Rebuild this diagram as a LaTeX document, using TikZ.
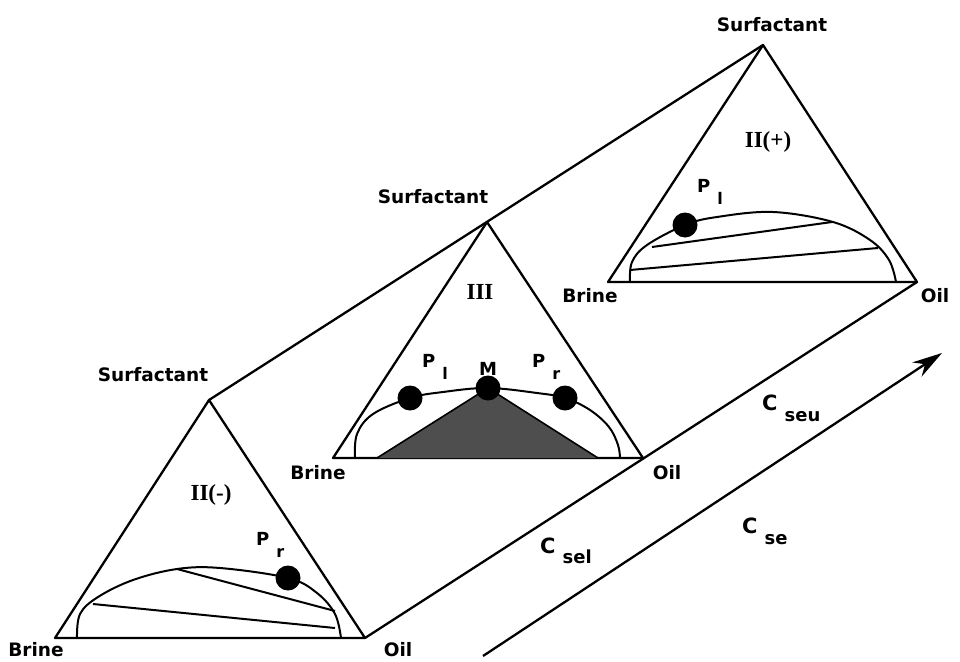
\documentclass[tikz,border=0pt]{standalone}
\usepackage{fontspec}
\setmainfont{DejaVu Sans}
\newfontfamily\romfont{Liberation Serif}
\usetikzlibrary{arrows.meta}

\definecolor{threeph}{RGB}{78,78,78}

% letter with a lowered, spaced index: base, index, drop, index size
\newcommand{\lowsub}[4]{#1\hspace{7pt}\raisebox{-#3}{\fontsize{#4}{#4}\selectfont #2}}

\begin{document}
\begin{tikzpicture}[x=1pt, y=-1pt,
  edge/.style={line width=2.3pt, line join=round},
  binodal/.style={line width=2pt, smooth, tension=0.6},
  tieline/.style={line width=2pt},
  corner/.style={font=\fontsize{18.5}{18.5}\selectfont\bfseries},
  phase/.style={font=\romfont\fontsize{23}{23}\selectfont\bfseries},
  ptlbl/.style={font=\fontsize{18}{18}\selectfont\bfseries, anchor=base west, inner sep=0pt},
  clbl/.style={font=\fontsize{21}{21}\selectfont\bfseries, anchor=base west, inner sep=0pt},
  dot/.style={circle, fill=black, minimum size=25pt, inner sep=0pt}]

  \useasboundingbox (0,0) rectangle (960,661);

  % vertices of the three ternary diagrams
  \coordinate (apexA) at (209,400);
  \coordinate (brineA) at (55,638);
  \coordinate (oilA) at (365,638);
  \coordinate (apexB) at (487,222);
  \coordinate (brineB) at (333,458);
  \coordinate (oilB) at (643,458);
  \coordinate (apexC) at (763,45);
  \coordinate (brineC) at (608,282);
  \coordinate (oilC) at (917,282);

  % triangles and the prism edges joining them
  \draw[edge] (brineA) -- (apexA) -- (oilA) -- cycle;
  \draw[edge] (brineB) -- (apexB) -- (oilB) -- cycle;
  \draw[edge] (brineC) -- (apexC) -- (oilC) -- cycle;
  \draw[edge] (apexA) -- (apexC);
  \draw[edge] (oilA) -- (oilC);

  % salinity axis
  \coordinate (axisS) at (483,656);
  \coordinate (axisE) at (942,353);
  \draw[edge, -{Stealth[length=30pt, width=17pt]}] (axisS) -- (axisE);

  % type II(-): lower phase microemulsion
  \draw[binodal] plot coordinates {(77,638) (80,614) (98,597) (133,580) (177,569)
    (220,568) (288,578) (317,593) (335,614) (341,638)};
  \draw[tieline] (177,569) -- (335,611);
  \draw[tieline] (93,604) -- (335,628);
  \node[dot] (prA) at (288,578) {};

  % type III: middle phase microemulsion
  \fill[threeph] (377,458) -- (488,388) -- (598,458) -- cycle;
  \draw[line width=1.6pt] (377,458) -- (488,388) -- (598,458);
  \draw[binodal] plot coordinates {(355,458) (357,434) (373,414) (410,398) (443,392)
    (488,388) (537,393) (565,398) (590,410) (609,427) (618,445) (620,458)};
  \node[dot] (plB) at (410,398) {};
  \node[dot] (mB) at (488,388) {};
  \node[dot] (prB) at (565,398) {};

  % type II(+): upper phase microemulsion
  \draw[binodal] plot coordinates {(630,282) (632,262) (647,245) (685,225) (717,217)
    (773,212) (833,222) (870,240) (889,260) (896,282)};
  \draw[tieline] (652,247) -- (832,222);
  \draw[tieline] (630,270) -- (878,248);
  \node[dot] (plC) at (685,225) {};

  % corner labels
  \node[corner] (surfA) at (153,375) {Surfactant};
  \node[corner] (surfB) at (433,197) {Surfactant};
  \node[corner] (surfC) at (772,25) {Surfactant};
  \node[corner] (brineAl) at (36,650) {Brine};
  \node[corner] (oilAl) at (398,650) {Oil};
  \node[corner] (brineBl) at (318,473) {Brine};
  \node[corner] (oilBl) at (667,473) {Oil};
  \node[corner] (brineCl) at (590,296) {Brine};
  \node[corner] (oilCl) at (935,296) {Oil};

  % phase types
  \node[phase] (typeA) at (211,495) {II(-)};
  \node[phase] (typeB) at (480,292) {III};
  \node[phase] (typeC) at (768,142) {II(+)};

  % plait points
  \node[ptlbl] (prAl) at (256,545) {\lowsub{P}{r}{12pt}{16}};
  \node[ptlbl] (plBl) at (422,367) {\lowsub{P}{l}{12pt}{16}};
  \node[ptlbl, anchor=base] (mBl) at (488,375) {M};
  \node[ptlbl] (prBl) at (532,367) {\lowsub{P}{r}{12pt}{16}};
  \node[ptlbl] (plCl) at (697,192) {\lowsub{P}{l}{12pt}{16}};

  % salinity limits
  \node[clbl] (cseu) at (762,410) {\lowsub{C}{seu}{11pt}{18}};
  \node[clbl] (cse) at (742,533) {\lowsub{C}{se}{11pt}{18}};
  \node[clbl] (csel) at (540,553) {\lowsub{C}{sel}{10pt}{18}};

\end{tikzpicture}
\end{document}
